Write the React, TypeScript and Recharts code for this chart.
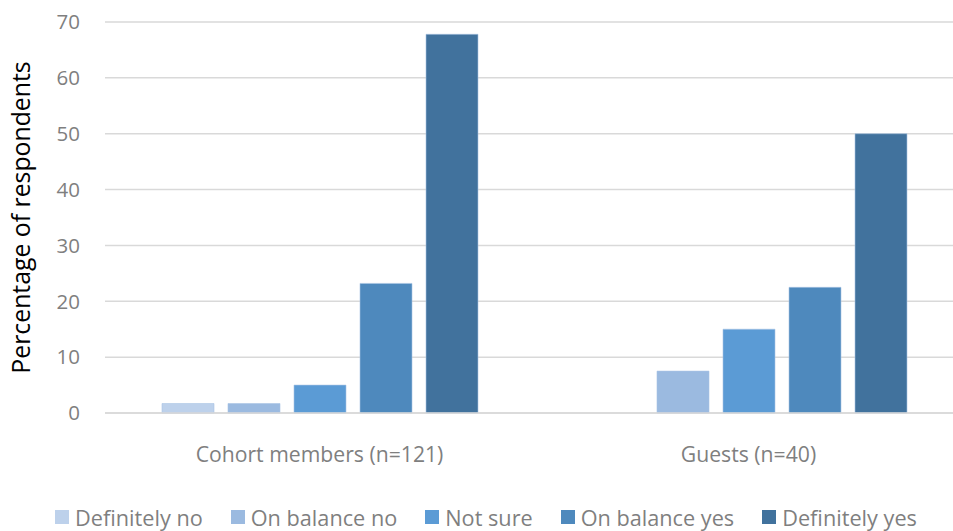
import React from "react";
import { BarChart, Bar, XAxis, YAxis, CartesianGrid, Legend, Label } from "recharts";

const categories = ["Cohort members (n=121)", "Guests (n=40)"];
const seriesNames = ["Definitely no", "On balance no", "Not sure", "On balance yes", "Definitely yes"];
const definitelyNo = [1.7, 0];
const onBalanceNo = [1.7, 7.5];
const notSure = [5.0, 15.0];
const onBalanceYes = [23.2, 22.5];
const definitelyYes = [67.8, 50.0];
const yTicks = [0, 10, 20, 30, 40, 50, 60, 70];

const colors = ["#BDD1EB", "#9BBAE0", "#5B9BD5", "#4E89BD", "#41729D"];
const seriesValues = [definitelyNo, onBalanceNo, notSure, onBalanceYes, definitelyYes];
const keys = ["s0", "s1", "s2", "s3", "s4"];

const data = categories.map((c, i) => {
  const row: any = { name: c };
  keys.forEach((k, j) => (row[k] = seriesValues[j][i]));
  return row;
});

const FONT = "'Open Sans', 'Liberation Sans', Arial, sans-serif";

const LegendContent = () => (
  <div
    style={{
      width: 953,
      height: 36,
      display: "flex",
      justifyContent: "center",
      alignItems: "center",
      paddingTop: 8,
      paddingLeft: 19,
      boxSizing: "border-box",
      fontFamily: FONT,
      fontSize: 21.7,
      color: "#7F7F7F",
    }}
  >
    {seriesNames.map((n, i) => (
      <div key={n} style={{ display: "flex", alignItems: "center", marginRight: i < seriesNames.length - 1 ? 28 : 0 }}>
        <div style={{ width: 14, height: 14, background: colors[i], marginRight: 6 }} />
        <span>{n}</span>
      </div>
    ))}
  </div>
);

export default function App() {
  return (
    <div style={{ position: "absolute", left: 0, top: 0, width: 953, height: 531, overflow: "hidden", background: "#fff" }}>
      <BarChart
        width={963}
        height={531}
        data={data}
        margin={{ top: 22, right: 0, bottom: 0, left: 0 }}
        barSize={52}
        barGap={14}
      >
        <CartesianGrid horizontal vertical={false} stroke="#D9D9D9" strokeWidth={1.5} />
        <XAxis
          dataKey="name"
          axisLine={{ stroke: "#D9D9D9", strokeWidth: 1.5 }}
          tickLine={false}
          tickMargin={28}
          height={82}
          tick={{ fill: "#7F7F7F", fontSize: 21.2, fontFamily: FONT }}
        />
        <YAxis
          domain={[0, 70]}
          ticks={yTicks}
          width={105}
          axisLine={false}
          tickLine={false}
          tickMargin={19}
          tick={{ fill: "#7F7F7F", fontSize: 20.5, fontFamily: FONT }}
        >
          <Label
            value="Percentage of respondents"
            angle={-90}
            position="center"
            dx={-31}
            style={{ fill: "#000", fontSize: 24.8, fontFamily: FONT }}
          />
        </YAxis>
        <Legend verticalAlign="bottom" content={<LegendContent />} wrapperStyle={{ left: 0, width: 953 }} />
        {keys.map((k, i) => (
          <Bar key={k} dataKey={k} name={seriesNames[i]} fill={colors[i]} stroke="#A9C4E4" strokeWidth={0.6} isAnimationActive={false} />
        ))}
      </BarChart>
    </div>
  );
}
